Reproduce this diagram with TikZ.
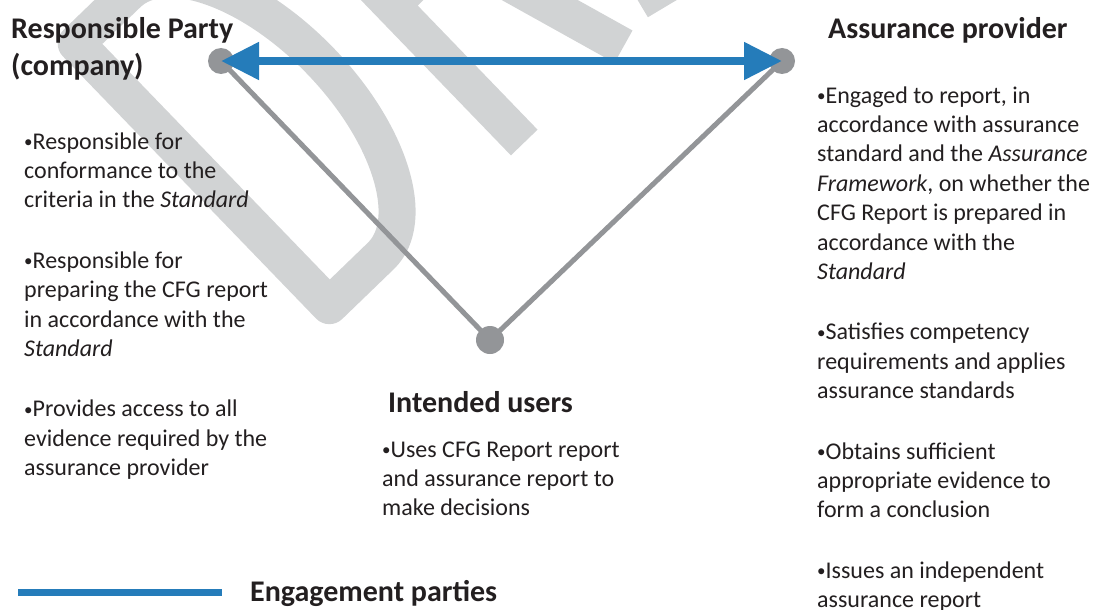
\documentclass[tikz,border=0pt]{standalone}
\usepackage{fontspec}
\setmainfont{Carlito}
\usetikzlibrary{arrows.meta}
\definecolor{wmgray}{RGB}{209,211,212}
\definecolor{nodegray}{RGB}{147,149,152}
\definecolor{engblue}{RGB}{37,124,186}
\definecolor{ink}{RGB}{35,31,32}
% extra space between bullet paragraphs
\newcommand{\paragap}{\vskip 31pt}
% small raised bullet
\newcommand{\bul}{\raisebox{1.5pt}{\fontsize{17}{17}\selectfont •}}
\begin{document}
\begin{tikzpicture}[x=1pt,y=-1pt,
  wm/.style={draw=wmgray, line width=37pt, line join=round},
  party/.style={circle, fill=nodegray, inner sep=0pt, minimum size=26pt},
  link/.style={draw=nodegray, line width=5pt},
  engage/.style={draw=engblue, line width=8pt,
    {Triangle[length=38pt,width=36pt]}-{Triangle[length=38pt,width=36pt]}},
  legendline/.style={draw=engblue, line width=7pt},
  head/.style={anchor=base west, inner sep=0pt, text=ink,
    font=\fontsize{30}{37}\selectfont\bfseries},
  body/.style={anchor=base west, inner sep=0pt, text=ink,
    font=\fontsize{24}{29.4}\selectfont},
]
\useasboundingbox (0,0) rectangle (1097,610);
\fill[white] (0,0) rectangle (1097,610);

% DRAFT watermark, rotated letters behind everything
\begin{scope}
  \clip (0,0) rectangle (1097,610);
  \begin{scope}[shift={(50,43)}, rotate=44]
    % D
    \draw[wm] (18.5,18.5) -- (90,18.5)
      .. controls (140.8,18.5) and (182,100.1) .. (182,200.75)
      .. controls (182,301.4) and (140.8,383) .. (90,383)
      -- (18.5,383) -- cycle;
    % R
    \draw[wm, line cap=butt] (272,401) -- (272,18.5) -- (330,18.5)
      .. controls (378,18.5) and (400,50) .. (400,114)
      .. controls (400,178) and (378,210) .. (330,210) -- (272,210);
    \draw[wm, line cap=butt] (352,210) -- (410,401);
    % A (only its left foot reaches the sheet)
    \draw[wm, line cap=butt] (466,401) -- (560,0) -- (654,401);
  \end{scope}
\end{scope}

% parties
\node[party] (rp) at (221,61) {};
\node[party] (ap) at (782,61) {};
\node[party, minimum size=28pt] (iu) at (490,340) {};

\draw[link] (rp.center) -- (iu.center);
\draw[link] (iu.center) -- (ap.center);
\draw[engage] (rp.center) -- (ap.center);

% legend
\coordinate (lg1) at (18,592);
\coordinate (lg2) at (222,592);
\draw[legendline] (lg1) -- (lg2);
\node[head] (lgtext) at (250,601) {Engagement parties};

% responsible party
\node[head] (rphead) at (11,38)
  {\vtop{\hbox{Responsible Party}\hbox{(company)}}};
\node[body] (rptext) at (24,149) {\vtop{%
  \hbox{\bul Responsible for}
  \hbox{conformance to the}
  \hbox{criteria in the \textit{Standard}}
  \paragap
  \hbox{\bul Responsible for}
  \hbox{preparing the CFG report}
  \hbox{in accordance with the}
  \hbox{\textit{Standard}}
  \paragap
  \hbox{\bul Provides access to all}
  \hbox{evidence required by the}
  \hbox{assurance provider}}};

% intended users
\node[head] (iuhead) at (388,412) {Intended users};
\node[body] (iutext) at (382,457) {\vtop{%
  \hbox{\bul Uses CFG Report report}
  \hbox{and assurance report to}
  \hbox{make decisions}}};

% assurance provider
\node[head] (aphead) at (828,38) {Assurance provider};
\node[body] (aptext) at (817,103) {\vtop{%
  \hbox{\bul Engaged to report, in}
  \hbox{accordance with assurance}
  \hbox{standard and the \textit{Assurance}}
  \hbox{\textit{Framework}, on whether the}
  \hbox{CFG Report is prepared in}
  \hbox{accordance with the}
  \hbox{\textit{Standard}}
  \paragap
  \hbox{\bul Satisfies competency}
  \hbox{requirements and applies}
  \hbox{assurance standards}
  \paragap
  \hbox{\bul Obtains sufficient}
  \hbox{appropriate evidence to}
  \hbox{form a conclusion}
  \paragap
  \hbox{\bul Issues an independent}
  \hbox{assurance report}}};
\end{tikzpicture}
\end{document}
